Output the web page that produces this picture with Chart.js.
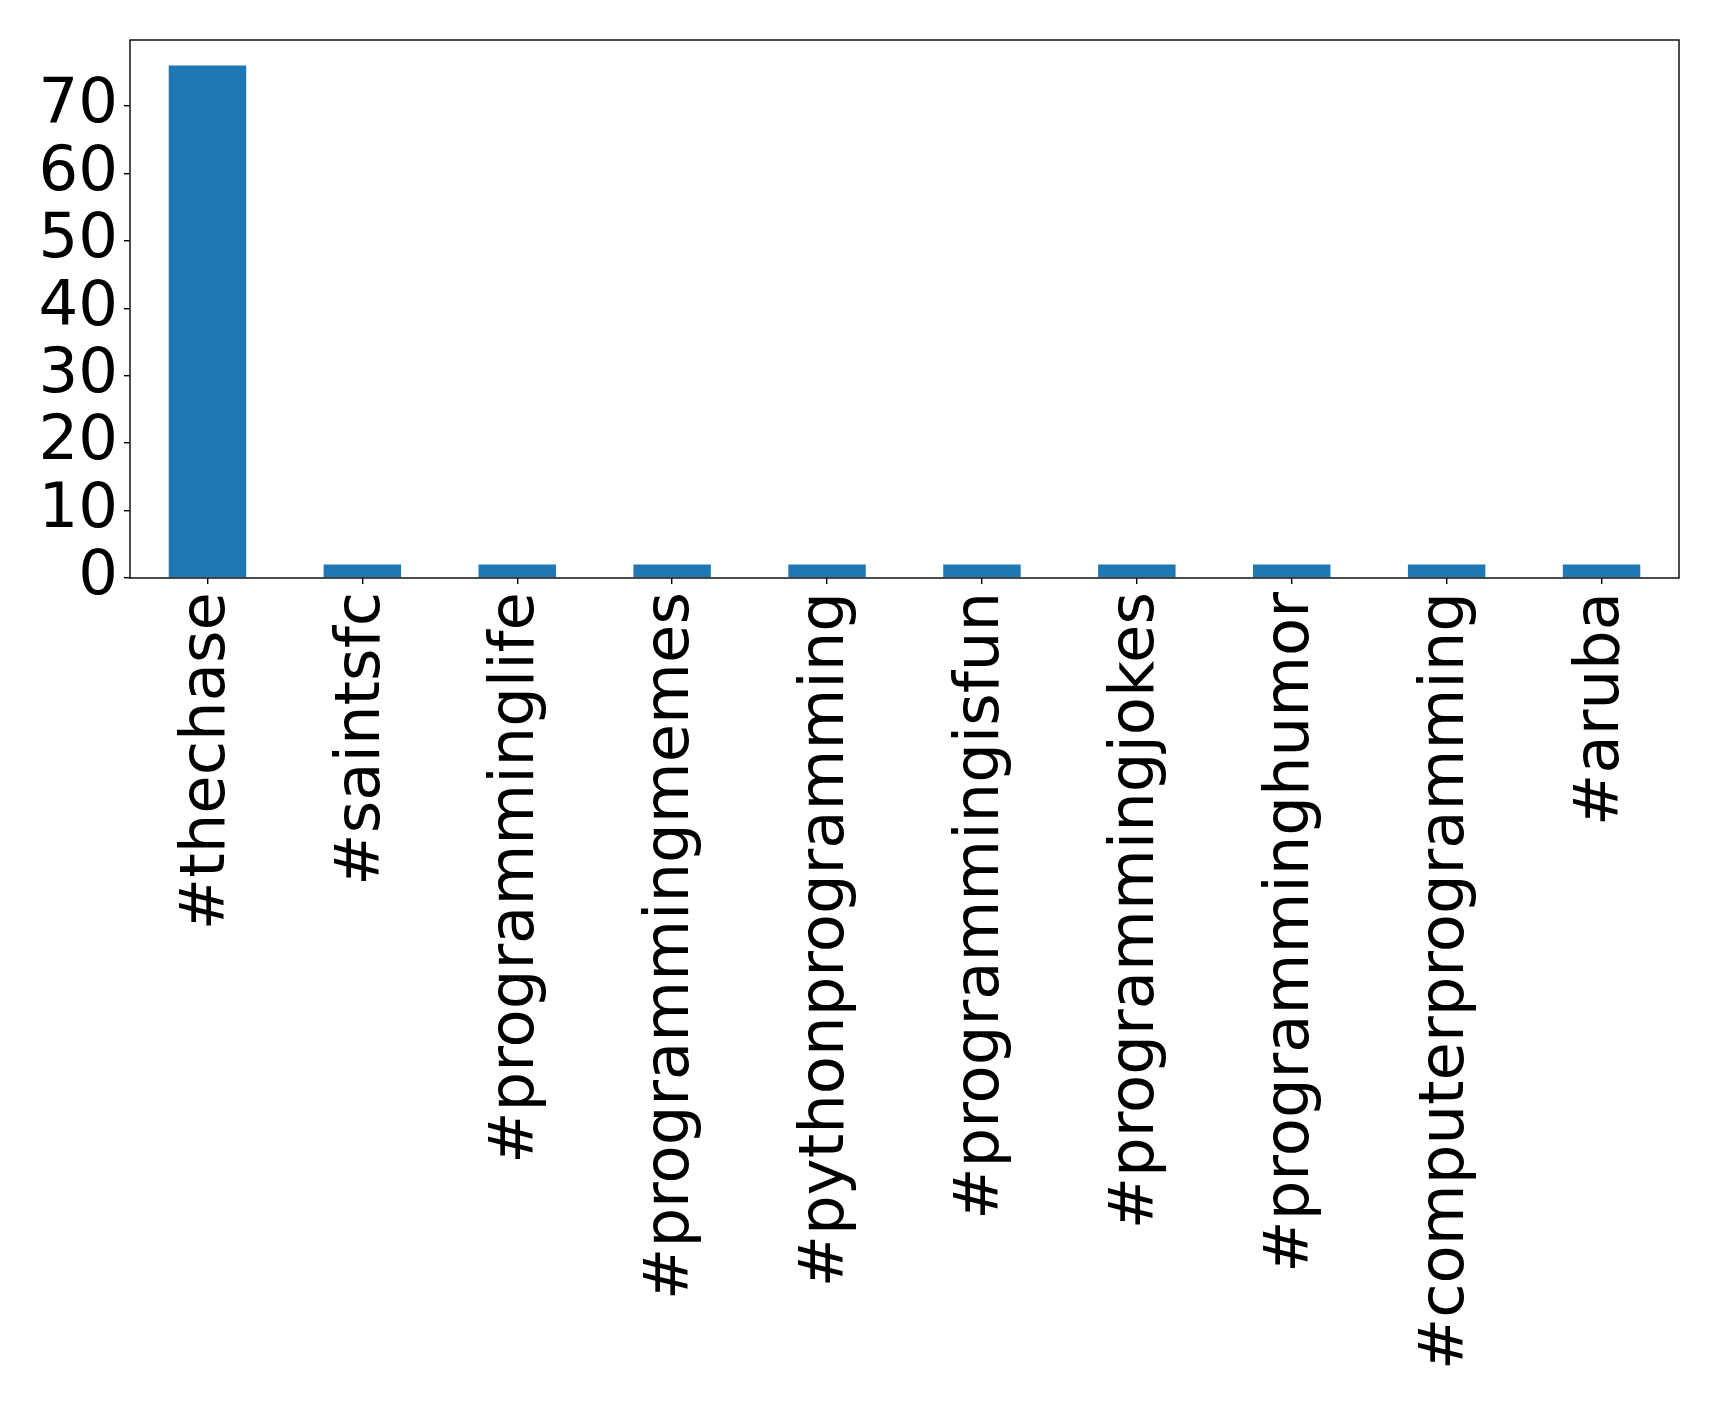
<!DOCTYPE html>
<html>
<head>
<meta charset="utf-8">
<script src="https://cdn.jsdelivr.net/npm/chart.js@4/dist/chart.umd.min.js"></script>
<style>
  html, body { margin: 0; padding: 0; background: #fff; }
  #wrap { width: 1719px; height: 1406px; }
</style>
</head>
<body>
<div id="wrap"><canvas id="hashtags"></canvas></div>
<script>
// hashtags et nombre d'occurrences
const hashtags = ['#thechase', '#saintsfc', '#programminglife', '#programmingmemes',
  '#pythonprogramming', '#programmingisfun', '#programmingjokes', '#programminghumor',
  '#computerprogramming', '#aruba'];
const counts = [76, 2, 2, 2, 2, 2, 2, 2, 2, 2];
const yTicks = [0, 10, 20, 30, 40, 50, 60, 70];
const yMax = 79.8;

// cadre noir autour de la zone du graphique (comme matplotlib)
const frame = {
  id: 'frame',
  afterDraw(chart) {
    const { ctx, chartArea: a } = chart;
    ctx.save();
    ctx.strokeStyle = '#000';
    ctx.lineWidth = 1.4;
    ctx.strokeRect(a.left, a.top, a.right - a.left, a.bottom - a.top);
    ctx.restore();
  }
};

const ctx = document.getElementById('hashtags');
new Chart(ctx, {
  type: 'bar',
  data: {
    labels: hashtags,
    datasets: [{
      data: counts,
      backgroundColor: '#1f77b4',
      categoryPercentage: 1.0,
      barPercentage: 0.5,
    }]
  },
  options: {
    responsive: true,
    maintainAspectRatio: false,
    animation: false,
    layout: { padding: { top: 40, right: 40, left: 0, bottom: 0 } },
    plugins: { legend: { display: false }, tooltip: { enabled: false } },
    scales: {
      x: {
        grid: { display: true, offset: false, drawOnChartArea: false, drawTicks: true, tickLength: 6, color: '#000', lineWidth: 1.4 },
        border: { display: false },
        ticks: {
          color: '#000',
          minRotation: 90, maxRotation: 90,
          autoSkip: false,
          padding: 8,
          font: { family: 'DejaVu Sans', size: 62.5 }
        },
        afterFit(scale) { scale.height = 1406 - 578; }
      },
      y: {
        min: 0, max: yMax,
        afterBuildTicks(scale) { scale.ticks = yTicks.map(v => ({ value: v })); },
        grid: { display: true, drawOnChartArea: false, drawTicks: true, tickLength: 6, color: '#000', lineWidth: 1.4 },
        border: { display: false },
        ticks: {
          color: '#000',
          autoSkip: false,
          padding: 6,
          font: { family: 'DejaVu Sans', size: 62.5 }
        },
        afterFit(scale) {
          scale.width = 130;
          scale.paddingTop = 0;
          scale.paddingBottom = 0;
        }
      }
    }
  },
  plugins: [frame]
});
</script>
</body>
</html>
